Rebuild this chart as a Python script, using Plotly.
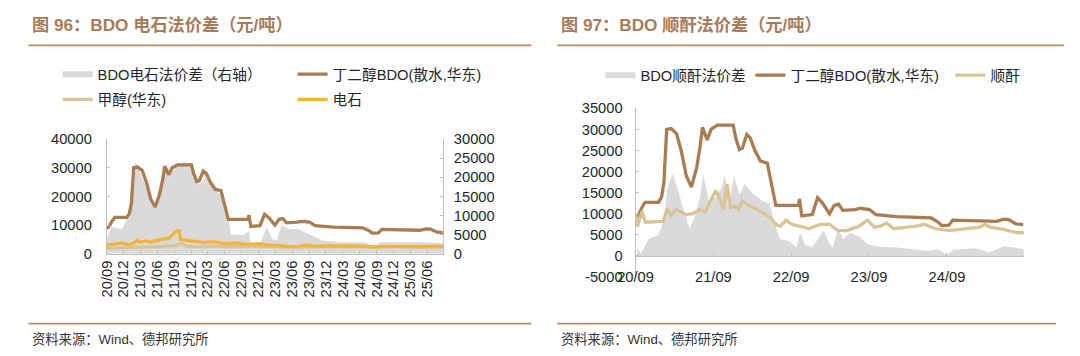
import plotly.graph_objects as go

W, H = 1080, 356

# ---------------- data ----------------
bdo_dates = ["2020-09-01", "2020-09-13", "2020-10-01", "2020-10-15", "2020-12-18", "2021-01-01",
             "2021-01-12", "2021-01-25", "2021-02-15", "2021-03-12", "2021-04-03", "2021-04-27",
             "2021-05-21", "2021-06-15", "2021-07-01", "2021-07-12", "2021-08-03", "2021-08-21",
             "2021-09-20", "2021-12-03", "2021-12-15", "2022-01-01", "2022-01-15", "2022-02-05",
             "2022-02-21", "2022-03-15", "2022-04-10", "2022-05-12", "2022-05-28", "2022-06-21",
             "2022-10-06", "2022-10-10", "2022-10-21", "2022-12-09", "2023-01-03", "2023-01-27",
             "2023-02-28", "2023-03-22", "2023-04-12", "2023-05-01", "2023-06-28", "2023-07-22",
             "2023-09-03", "2023-10-04", "2024-01-10", "2024-06-19", "2024-07-22", "2024-08-07",
             "2024-09-10", "2024-09-28", "2025-04-22", "2025-05-25", "2025-06-18", "2025-07-21",
             "2025-08-25"]
bdo_vals = [8800, 9500, 11500, 12700, 12700, 14000,
            17500, 30000, 30200, 29000, 25000, 19000,
            16300, 21000, 26000, 30500, 27500, 30000,
            31000, 31000, 28000, 25200, 25500, 28800,
            28000, 25000, 22500, 22000, 18000, 12000,
            12000, 13500, 9500, 9800, 13800, 12500,
            10000, 12000, 12300, 10800, 11000, 11300,
            11000, 9800, 9300, 9000, 8000, 7200,
            7300, 8500, 8200, 8700, 8600, 7600,
            7400]

cc_spread_dates = ["2020-09-01", "2020-09-28", "2020-11-22", "2020-12-28", "2021-01-21", "2021-02-06",
                   "2021-03-12", "2021-04-18", "2021-05-15", "2021-06-12", "2021-07-06", "2021-08-06",
                   "2021-09-12", "2021-10-18", "2021-11-25", "2021-12-15", "2022-01-15", "2022-02-18",
                   "2022-03-24", "2022-05-18", "2022-06-12", "2022-07-04", "2022-09-16", "2022-10-09",
                   "2022-10-19", "2022-12-09", "2023-01-15", "2023-02-12", "2023-03-09", "2023-04-06",
                   "2023-05-13", "2023-07-06", "2023-08-15", "2023-11-15", "2024-02-15", "2024-06-24",
                   "2024-08-18", "2024-09-24", "2025-05-21", "2025-08-25"]
cc_spread_vals = [4000, 7000, 6500, 10000, 22000, 24000,
                  20000, 15000, 12000, 17000, 22500, 20000,
                  23000, 24000, 23500, 22000, 18000, 20000,
                  17500, 15000, 12000, 5000, 5000, 6000,
                  3000, 2500, 7000, 4000, 3500, 7500,
                  6500, 6500, 5500, 3500, 3000, 3000,
                  2000, 3000, 3000, 2800]

methanol_dates = ["2020-09-01", "2020-11-01", "2021-01-15", "2021-03-01", "2021-06-01", "2021-09-01",
                  "2021-10-12", "2021-11-01", "2022-01-01", "2022-04-01", "2022-07-01", "2022-10-01",
                  "2023-01-01", "2023-05-01", "2023-09-01", "2024-01-01", "2024-06-01", "2024-09-01",
                  "2025-01-01", "2025-05-01", "2025-08-25"]
methanol_vals = [1900, 2100, 2400, 2300, 2400, 2800,
                 3600, 2700, 2500, 2700, 2500, 2700,
                 2600, 2200, 2400, 2450, 2400, 2300,
                 2450, 2200, 2300]

carbide_dates = ["2020-09-01", "2020-10-25", "2020-11-22", "2020-12-28", "2021-01-21", "2021-02-14",
                 "2021-02-26", "2021-04-01", "2021-04-27", "2021-05-24", "2021-07-01", "2021-08-06",
                 "2021-08-28", "2021-09-16", "2021-09-28", "2021-10-05", "2021-11-25", "2022-02-08",
                 "2022-04-03", "2022-05-28", "2022-08-10", "2022-09-16", "2022-12-01", "2023-01-24",
                 "2023-04-06", "2023-05-13", "2023-07-06", "2023-08-15", "2023-10-09", "2024-02-15",
                 "2024-07-12", "2024-08-18", "2024-10-12", "2025-08-25"]
carbide_vals = [2900, 3500, 3800, 3200, 3600, 4800,
                4000, 4500, 4000, 4600, 5200, 5500,
                7000, 8000, 7800, 5000, 4500, 4000,
                4200, 3500, 3800, 3300, 3500, 3000,
                2800, 2500, 2600, 3000, 2700, 2800,
                2600, 2300, 2600, 2600]

ma_spread_dates = ["2020-09-01", "2020-09-10", "2020-09-26", "2020-11-01", "2020-12-18", "2021-01-09",
                   "2021-01-28", "2021-02-22", "2021-03-17", "2021-04-08", "2021-05-12", "2021-06-05",
                   "2021-07-01", "2021-07-15", "2021-08-10", "2021-09-12", "2021-10-08", "2021-10-25",
                   "2021-11-17", "2021-12-07", "2022-01-01", "2022-01-26", "2022-03-01", "2022-04-20",
                   "2022-05-22", "2022-06-15", "2022-07-10", "2022-08-24", "2022-09-26", "2022-10-13",
                   "2022-11-07", "2022-12-09", "2023-01-12", "2023-02-01", "2023-02-26", "2023-03-15",
                   "2023-04-09", "2023-05-04", "2023-06-06", "2023-07-22", "2023-08-25", "2023-10-21",
                   "2024-01-10", "2024-04-01", "2024-06-04", "2024-07-22", "2024-09-01", "2024-10-03",
                   "2025-01-14", "2025-03-21", "2025-05-25", "2025-07-12", "2025-08-28"]
ma_spread_vals = [-3000, 2000, 500, 4000, 5000, 8000,
                  16000, 19500, 16000, 12000, 6500, 9000,
                  14000, 19500, 13000, 14000, 16000, 19000,
                  13000, 19000, 14500, 17000, 15000, 13000,
                  12500, 8000, 4000, 3500, 2000, 5500,
                  2500, 2200, 4500, 6000, 3000, 2000,
                  6500, 4000, 5500, 4500, 2800, 2200,
                  2000, 1500, 1200, 1500, 300, 1500,
                  1800, 900, 2300, 2000, 1500]

ma_dates = ["2020-09-01", "2020-09-10", "2020-10-01", "2020-10-18", "2021-01-09", "2021-01-28",
            "2021-02-15", "2021-03-09", "2021-04-27", "2021-05-28", "2021-06-28", "2021-07-25",
            "2021-08-18", "2021-09-12", "2021-09-28", "2021-10-18", "2021-11-04", "2021-11-21",
            "2021-12-10", "2021-12-28", "2022-01-13", "2022-02-13", "2022-03-24", "2022-04-25",
            "2022-05-28", "2022-06-21", "2022-07-10", "2022-08-09", "2022-09-04", "2022-10-13",
            "2022-11-24", "2023-01-18", "2023-02-28", "2023-04-09", "2023-05-19", "2023-07-15",
            "2023-08-25", "2023-09-27", "2023-10-21", "2023-11-22", "2023-12-25", "2024-04-01",
            "2024-05-18", "2024-07-06", "2024-09-10", "2024-12-01", "2025-02-03", "2025-02-27",
            "2025-03-21", "2025-05-25", "2025-07-28", "2025-08-28"]
ma_vals = [10000, 7000, 10500, 8000, 8200, 11200,
           9500, 11000, 9800, 10000, 11000, 10500,
           13000, 15500, 14000, 11000, 17000, 11500,
           11800, 11000, 13000, 12000, 11000, 10000,
           9000, 7500, 7000, 8500, 7500, 7000,
           6500, 7500, 7500, 6000, 6000, 7000,
           8500, 6800, 7000, 7800, 6500, 7000,
           7500, 6500, 6000, 6500, 6800, 7500,
           6800, 6300, 5500, 5500]

right_y_ticks = [-5000, 0, 5000, 10000, 15000, 20000, 25000, 30000, 35000]

left_title = "图 96：BDO 电石法价差（元/吨）"
right_title = "图 97：BDO 顺酐法价差（元/吨）"
source_text = "资料来源：Wind、德邦研究所"

# ---------------- style ----------------
C_BDO = "#A87D52"
C_TAN = "#D9C497"
C_ORANGE = "#F4B43A"
C_GRAY = "#DADADA"
C_AXIS = "#BFBFBF"
C_TITLE = "#A67C5B"
C_RULE = "#B48A66"
FONT = "Liberation Sans, Arial, Noto Sans CJK SC, sans-serif"

# placement helpers: target picture pixels -> paper fractions (compensates for the capture)
SX, OX, SY, OY = 0.98, 23.5, 0.965, 13.75


def PX(p):
    return ((p - OX) / SX) / W


def PY(p):
    return 1 - ((p - OY) / SY) / H


fig = go.Figure()

fig.add_trace(go.Scatter(x=cc_spread_dates, y=cc_spread_vals, xaxis="x", yaxis="y",
                         mode="none", fill="tozeroy", fillcolor=C_GRAY,
                         name="BDO电石法价差（右轴）", legend="legend", legendwidth=190))
fig.add_trace(go.Scatter(x=bdo_dates, y=bdo_vals, xaxis="x", yaxis="y2", mode="lines",
                         line=dict(color=C_BDO, width=3.3),
                         name="丁二醇BDO(散水,华东)", legend="legend", legendwidth=190))
fig.add_trace(go.Scatter(x=methanol_dates, y=methanol_vals, xaxis="x", yaxis="y2", mode="lines",
                         line=dict(color=C_TAN, width=3.3),
                         name="甲醇(华东)", legend="legend2", legendwidth=190))
fig.add_trace(go.Scatter(x=carbide_dates, y=carbide_vals, xaxis="x", yaxis="y2", mode="lines",
                         line=dict(color=C_ORANGE, width=3.3),
                         name="电石", legend="legend2", legendwidth=190))

fig.add_trace(go.Scatter(x=ma_spread_dates, y=ma_spread_vals, xaxis="x2", yaxis="y3",
                         mode="none", fill="tozeroy", fillcolor=C_GRAY,
                         name="BDO顺酐法价差", legend="legend3", legendwidth=105))
fig.add_trace(go.Scatter(x=bdo_dates, y=bdo_vals, xaxis="x2", yaxis="y3", mode="lines",
                         line=dict(color=C_BDO, width=3.3),
                         name="丁二醇BDO(散水,华东)", legend="legend3", legendwidth=155))
fig.add_trace(go.Scatter(x=ma_dates, y=ma_vals, xaxis="x2", yaxis="y3", mode="lines",
                         line=dict(color=C_TAN, width=3.3),
                         name="顺酐", legend="legend3"))

TICKFONT = dict(size=14.7, color="#262626", family=FONT)
axis_common = dict(showgrid=False, zeroline=False, showline=True, linecolor=C_AXIS, linewidth=1,
                   ticks="inside", ticklen=3, tickcolor=C_AXIS, tickfont=TICKFONT)

legend_common = dict(orientation="h", xanchor="left", yanchor="middle", bgcolor="rgba(0,0,0,0)",
                     font=dict(size=14.7, color="#262626", family=FONT), tracegroupgap=0,
                     itemwidth=30)

fig.update_layout(
    width=W, height=H, margin=dict(l=0, r=0, t=0, b=0),
    paper_bgcolor="white", plot_bgcolor="white",
    font=dict(family=FONT, size=14.7, color="#262626"),
    xaxis=dict(axis_common, domain=[PX(104), PX(439)], anchor="y", type="date",
               range=["2020-09-01", "2025-08-25"], tick0="2020-09-01", dtick="M3",
               tickformat="%y/%m", tickangle=-90),
    yaxis=dict(axis_common, domain=[PY(254), PY(138)], anchor="x", side="right",
               range=[0, 30000], dtick=5000, tickformat="d", ticklabelstandoff=7),
    yaxis2=dict(axis_common, overlaying="y", anchor="x", side="left",
                range=[0, 40000], dtick=10000, tickformat="d", ticklabelstandoff=11),
    xaxis2=dict(axis_common, domain=[PX(631), PX(1018)], anchor="free", position=PY(256),
                type="date", range=["2020-09-01", "2025-08-28"], tick0="2020-09-01",
                dtick="M12", tickformat="%y/%m", ticklabelstandoff=8),
    yaxis3=dict(axis_common, domain=[PY(277.5), PY(107)], anchor="x2",
                range=[-5000, 35000], tickvals=right_y_ticks,
                ticktext=[str(v) for v in right_y_ticks], ticklabelstandoff=9),
    legend=dict(legend_common, x=PX(55), y=PY(73)),
    legend2=dict(legend_common, x=PX(55), y=PY(98.5)),
    legend3=dict(legend_common, x=PX(596), y=PY(74)),
    showlegend=True,
)

for x0, x1, x1b, tx, title in [(26, 527, 527, 27.5, left_title),
                               (553, 1058, 1050, 554.5, right_title)]:
    fig.add_annotation(text="<b>" + title + "</b>", xref="paper", yref="paper",
                       x=PX(tx), y=PY(22.5), xanchor="left", yanchor="middle", showarrow=False,
                       font=dict(size=17.2, color=C_TITLE, family=FONT))
    fig.add_shape(type="line", xref="paper", yref="paper", x0=PX(x0), x1=PX(x1),
                  y0=PY(43.5), y1=PY(43.5), line=dict(color=C_RULE, width=1.7))
    fig.add_shape(type="line", xref="paper", yref="paper", x0=PX(x0), x1=PX(x1b),
                  y0=PY(324.5), y1=PY(324.5), line=dict(color=C_RULE, width=1.7))
    fig.add_annotation(text=source_text, xref="paper", yref="paper",
                       x=PX(tx), y=PY(341), xanchor="left", yanchor="middle", showarrow=False,
                       font=dict(size=13.3, color="#333333", family=FONT))

fig.write_html("out.html")
